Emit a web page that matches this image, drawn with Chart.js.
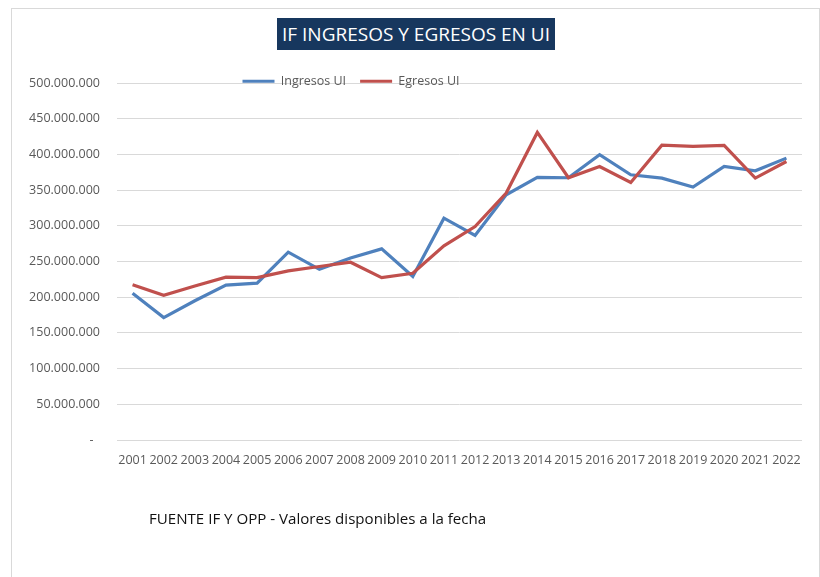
<!DOCTYPE html>
<html>
<head>
<meta charset="utf-8">
<script src="https://cdn.jsdelivr.net/npm/chart.js@4"></script>
<style>
  html, body { margin: 0; padding: 0; background: #fff; overflow: hidden; }
  body { width: 820px; height: 577px; position: relative; font-family: "Open Sans", sans-serif; }
  #frame { position: absolute; left: 11px; top: 8px; width: 807px; height: 620px; border: 1px solid #d9d9d9; }
  #titulo { position: absolute; left: 277px; top: 18px; width: 278px; height: 32px; background: #17375e;
            color: #fff; font-size: 19px; line-height: 32px; text-align: center; white-space: nowrap; }
  #fuente { position: absolute; left: 149px; top: 508px; font-size: 15.1px; color: #111; white-space: nowrap; }
  #wrap { position: absolute; left: 0; top: 0; width: 820px; height: 577px; }
</style>
</head>
<body>
<div id="frame"></div>
<div id="wrap"><canvas id="grafico"></canvas></div>
<div id="titulo">IF INGRESOS Y EGRESOS EN UI</div>
<div id="fuente">FUENTE IF Y OPP - Valores disponibles a la fecha</div>
<script>
const anios = ['2001', '2002', '2003', '2004', '2005', '2006', '2007', '2008', '2009', '2010', '2011',
               '2012', '2013', '2014', '2015', '2016', '2017', '2018', '2019', '2020', '2021', '2022'];

const ingresos = [205600000, 171400000, 195000000, 217000000, 219600000, 263000000, 239000000, 255000000,
                  267700000, 229000000, 310700000, 286400000, 343400000, 367700000, 367300000, 399500000,
                  371500000, 366800000, 354200000, 383100000, 377000000, 394800000];

const egresos = [217300000, 202800000, 215700000, 228000000, 227500000, 236900000, 243000000, 249000000,
                 227500000, 233600000, 271900000, 299000000, 345800000, 430800000, 367300000, 383100000,
                 360700000, 413000000, 411200000, 412600000, 366800000, 390100000];

const ejeY = { min: 0, max: 500000000, paso: 50000000 };

function formatoMiles(v) {
    if (v === 0) {
        return '-  ';
    }
    return String(v).replace(/\B(?=(\d{3})+(?!\d))/g, '.');
}

// mueve la leyenda encima de la primera linea de la grilla, como en Excel
const leyendaPlugin = {
    id: 'leyendaExcel',
    beforeInit(chart) {
        const fitOriginal = chart.legend.fit;
        chart.legend.fit = function () {
            fitOriginal.call(this);
            this.height = 0;
        };
    },
    afterLayout(chart) {
        const lg = chart.legend;
        const d = 351 - (lg.left + lg.right) / 2;
        lg.left += d;
        lg.right += d;
        lg.top = 61;
        lg.bottom = 95;
        lg.width = lg.right - lg.left;
        lg.height = lg.bottom - lg.top;
    }
};

const gris = '#595959';
Chart.defaults.font.family = '"Open Sans", sans-serif';
Chart.defaults.font.size = 12.5;
Chart.defaults.color = gris;

new Chart(document.getElementById('grafico').getContext('2d'), {
    type: 'line',
    data: {
        labels: anios,
        datasets: [{
            label: 'Ingresos UI',
            data: ingresos,
            borderColor: '#4f81bd',
            backgroundColor: '#4f81bd',
            borderWidth: 3.2,
            pointRadius: 0,
            tension: 0,
            order: 1
        }, {
            label: 'Egresos UI',
            data: egresos,
            borderColor: '#c0504d',
            backgroundColor: '#c0504d',
            borderWidth: 3.2,
            pointRadius: 0,
            tension: 0,
            order: 0
        }]
    },
    options: {
        responsive: true,
        maintainAspectRatio: false,
        animation: false,
        layout: { padding: { top: 83, left: 0, right: 18, bottom: 107 } },
        plugins: {
            title: { display: false },
            tooltip: { enabled: false },
            legend: {
                display: true,
                position: 'top',
                labels: {
                    usePointStyle: true,
                    pointStyle: 'line',
                    pointStyleWidth: 32,
                    boxHeight: 12,
                    padding: 14,
                    color: gris,
                    font: { size: 12.5 },
                    sort: (a, b) => a.datasetIndex - b.datasetIndex
                }
            }
        },
        scales: {
            x: {
                offset: true,
                grid: { display: false, drawTicks: false, offset: true },
                border: { display: false },
                ticks: { padding: 13, maxRotation: 0, autoSkip: false, color: gris },
                afterFit(scale) { scale.height = 30; }
            },
            y: {
                min: ejeY.min,
                max: ejeY.max,
                grid: { color: '#d9d9d9', lineWidth: 1, drawTicks: false },
                border: { display: false },
                ticks: {
                    stepSize: ejeY.paso,
                    padding: 17,
                    color: gris,
                    callback: (v) => formatoMiles(v)
                },
                afterFit(scale) { scale.width = 117; }
            }
        }
    },
    plugins: [leyendaPlugin]
});
</script>
</body>
</html>
